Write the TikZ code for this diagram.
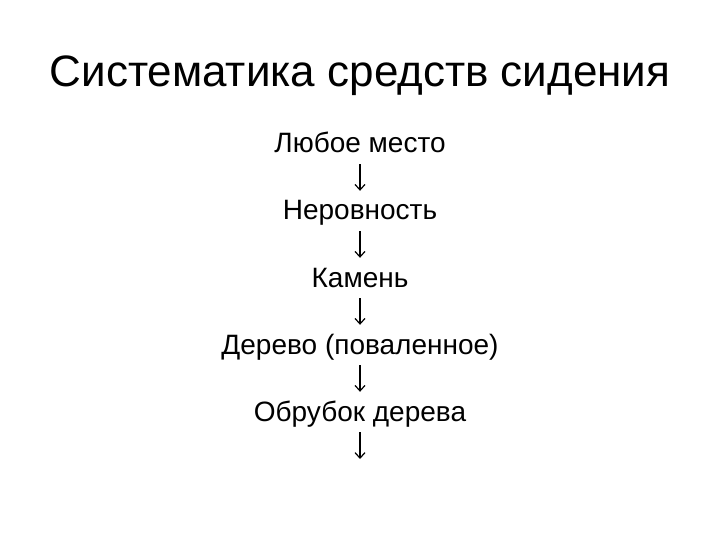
\documentclass[tikz,border=0pt]{standalone}
\usepackage{fontspec}
\setmainfont{Liberation Sans}
\usetikzlibrary{arrows.meta}
\begin{document}
\begin{tikzpicture}[x=1pt,y=1pt,
  title/.style={font=\fontsize{44}{50}\selectfont,anchor=base,inner sep=0pt},
  item/.style={font=\fontsize{28}{32}\selectfont,anchor=base,inner sep=0pt,text height=20pt,text depth=6pt},
  flow/.style={draw=black,line width=1.2pt,-{Straight Barb[length=5.5pt,width=10pt]},shorten <=5pt,shorten >=9pt}]
\useasboundingbox (0,0) rectangle (720,-540);
\node[title] (t) at (360,-87) {Систематика средств сидения};
\node[item] (a) at (360,-153) {Любое место};
\node[item] (b) at (360,-220) {Неровность};
\node[item] (c) at (360,-287) {Камень};
\node[item] (d) at (360,-354) {Дерево (поваленное)};
\node[item] (e) at (360,-421) {Обрубок дерева};
\coordinate (f) at (360,-468);
\draw[flow] (a.south) -- (b.north);
\draw[flow] (b.south) -- (c.north);
\draw[flow] (c.south) -- (d.north);
\draw[flow] (d.south) -- (e.north);
\draw[flow] (e.south) -- (f);
\end{tikzpicture}
\end{document}
